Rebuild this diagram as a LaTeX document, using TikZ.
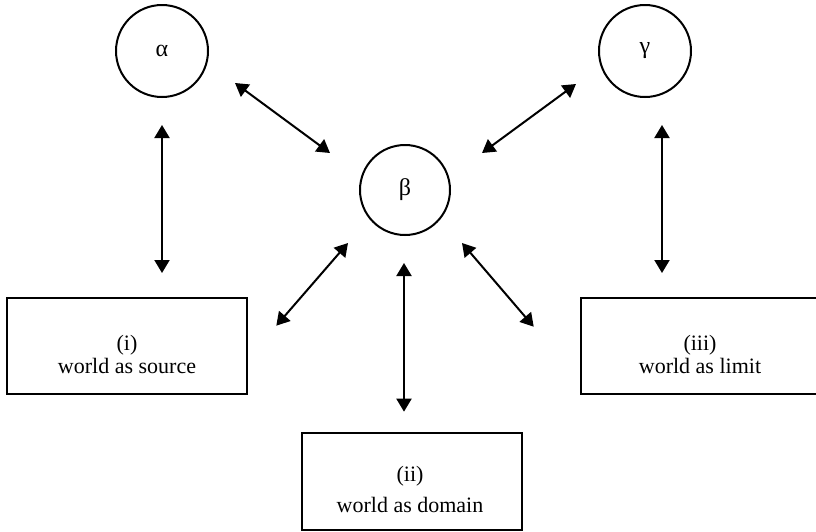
\documentclass[tikz,border=0pt]{standalone}
\usepackage{fontspec}
\setmainfont{Liberation Serif}
\usetikzlibrary{arrows.meta,calc}
\tikzset{
  circ/.style={circle,draw,line width=2pt,minimum size=92pt,inner sep=0pt,font=\fontsize{24}{28}\selectfont},
  boxnode/.style={rectangle,draw,line width=2.6pt,inner sep=0pt},
  boxtext/.style={align=center,inner sep=0pt,font=\fontsize{22}{23}\selectfont},
  link/.style={line width=2pt,{Triangle[length=13pt,width=15pt]}-{Triangle[length=13pt,width=15pt]}}
}
\begin{document}
\begin{tikzpicture}[x=1pt,y=-1pt]
\useasboundingbox (0,0) rectangle (816,531);
\node[circ] (alpha) at (162,51) {α};
\node[circ] (gamma) at (645,51) {γ};
\node[circ,minimum size=90pt] (beta) at (405,190) {β};
\node[boxnode,minimum width=240pt,minimum height=96pt] (src) at (127,346) {};
\node[boxnode,minimum width=238pt,minimum height=96pt] (lim) at (700,346) {};
\node[boxnode,minimum width=220pt,minimum height=97pt] (dom) at (412,481.5) {};
\node[boxtext] (srctext) at ($(src.center)+(0,8)$) {(i)\\world as source};
\node[boxtext] (limtext) at ($(lim.center)+(0,8)$) {(iii)\\world as limit};
\node[boxtext,font=\fontsize{22}{31}\selectfont] (domtext) at ($(dom.center)+(-2,8)$) {(ii)\\world as domain};
\draw[link] ($(alpha.center)+(73,32)$) -- ($(beta.center)+(-75,-37)$);
\draw[link] ($(gamma.center)+(-69,33)$) -- ($(beta.center)+(77,-37)$);
\draw[link] ($(alpha.center)+(0,74)$) -- ($(alpha.center)+(0,222)$);
\draw[link] ($(gamma.center)+(17,74)$) -- ($(gamma.center)+(17,222)$);
\draw[link] ($(beta.center)+(-57,53)$) -- ($(src.north east)+(28,29)$);
\draw[link] ($(beta.center)+(57,53)$) -- ($(lim.north west)+(-46,30)$);
\draw[link] ($(beta.center)+(-1,73)$) -- ($(dom.north)+(-8,-20)$);
\end{tikzpicture}
\end{document}
